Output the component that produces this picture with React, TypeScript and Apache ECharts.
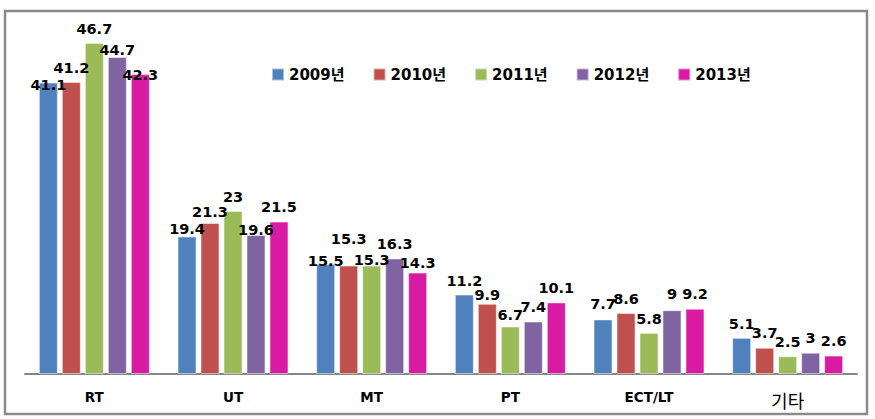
import React, { useEffect, useRef } from "react";
import * as echarts from "echarts";

const categories = ["RT", "UT", "MT", "PT", "ECT/LT", "기타"];
const seriesNames = ["2009년", "2010년", "2011년", "2012년", "2013년"];
const v2009 = [41.1, 19.4, 15.5, 11.2, 7.7, 5.1];
const v2010 = [41.2, 21.3, 15.3, 9.9, 8.6, 3.7];
const v2011 = [46.7, 23, 15.3, 6.7, 5.8, 2.5];
const v2012 = [44.7, 19.6, 16.3, 7.4, 9, 3];
const v2013 = [42.3, 21.5, 14.3, 10.1, 9.2, 2.6];
const colors = ["#4F81BD", "#C0504D", "#9BBB59", "#8064A2", "#D91AA3"];

// vertical label nudges (px, positive = down) so labels sit as in the reference
const labelDy = [
  [17, 7, 11, 1, -1, 0],
  [0, 3, -12, 5, 0, -1],
  [0, 0, 9, 3, 0, 0],
  [7, 9, 0, 0, -2, 0],
  [15, 0, 5, 0, -1, 0],
];

export default function App() {
  const ref = useRef<HTMLDivElement>(null);
  useEffect(() => {
    if (!ref.current) return;
    const chart = echarts.init(ref.current, undefined, { renderer: "svg" });
    const all = [v2009, v2010, v2011, v2012, v2013];
    const font = "'DejaVu Sans', 'Noto Sans CJK KR', sans-serif";
    chart.setOption({
      animation: false,
      backgroundColor: "#ffffff",
      graphic: [
        {
          type: "rect",
          shape: { x: 5, y: 11, width: 862, height: 403 },
          style: { fill: "none", stroke: "#8a8a8a", lineWidth: 2.5 },
          silent: true,
        },
      ],
      legend: {
        left: 271,
        top: 67,
        padding: 0,
        icon: "rect",
        itemWidth: 12,
        itemHeight: 12,
        itemGap: 28,
        textStyle: { fontFamily: font, fontWeight: "bold", fontSize: 15, color: "#000" },
        data: seriesNames,
      },
      grid: { left: 25, right: 18, top: 19.5, bottom: 45 },
      xAxis: {
        type: "category",
        data: categories,
        axisLine: { lineStyle: { color: "#868686", width: 2 } },
        axisTick: { show: false },
        axisLabel: {
          margin: 16,
          formatter: (v: string) => (v === "기타" ? "{k|" + v + "}" : "{b|" + v + "}"),
          rich: {
            b: { fontFamily: font, fontWeight: "bold", fontSize: 13.5, color: "#000" },
            k: { fontFamily: "'Noto Sans CJK KR', sans-serif", fontSize: 18, color: "#000", padding: [1, 0, 0, 0] },
          },
        },
      },
      yAxis: { type: "value", min: 0, max: 50, show: false, splitLine: { show: false } },
      series: seriesNames.map((name, i) => ({
        name,
        type: "bar",
        data: all[i].map((v, j) => ({ value: v, label: { offset: [0, labelDy[i][j]] } })),
        barWidth: 19,
        barGap: "21%",
        itemStyle: { color: colors[i], borderColor: "rgba(255,255,255,0.5)", borderWidth: 1 },
        label: {
          show: true,
          position: "top",
          distance: 7,
          fontFamily: font,
          fontWeight: "bold",
          fontSize: 14.5,
          color: "#000",
        },
      })),
    });
    return () => chart.dispose();
  }, []);
  return <div ref={ref} style={{ position: "absolute", left: 0, top: 0, width: 875, height: 419 }} />;
}
